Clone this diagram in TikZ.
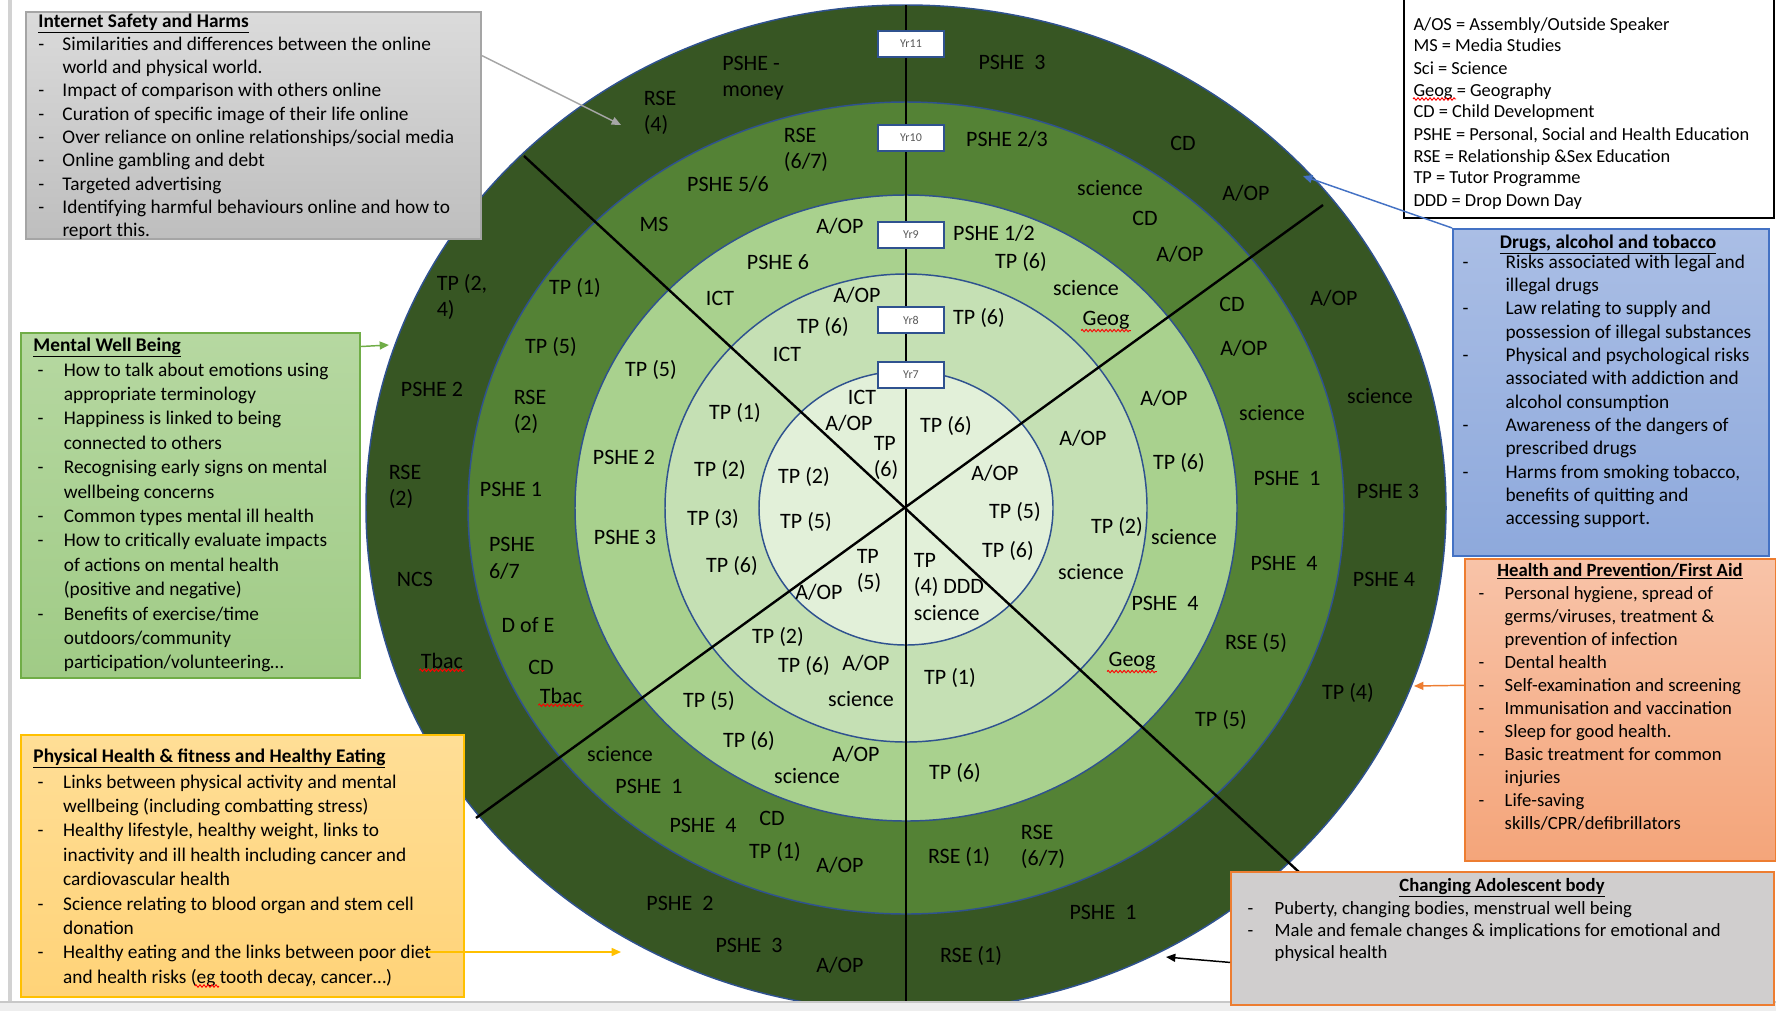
\documentclass[tikz,border=0pt]{standalone}
\usepackage{fontspec}
\setmainfont{Carlito}
\usetikzlibrary{arrows.meta,decorations.pathmorphing}

% shading colours of the topic boxes
\definecolor{inettop}{RGB}{219,219,219}
\definecolor{inetbot}{RGB}{190,190,190}
\definecolor{menttop}{RGB}{182,216,161}
\definecolor{mentbot}{RGB}{160,203,134}
\definecolor{phystop}{RGB}{255,222,150}
\definecolor{physbot}{RGB}{255,211,120}
\definecolor{drugtop}{RGB}{170,190,229}
\definecolor{drugbot}{RGB}{142,169,220}
\definecolor{hlthtop}{RGB}{248,195,168}
\definecolor{hlthbot}{RGB}{244,165,122}

% dash item and continuation line
\newcommand{\di}[1][18pt]{\makebox[#1][l]{-}}
\newcommand{\ci}[1][18pt]{\hspace*{#1}}

\tikzset{every picture/.style={line width=0.75pt}}
\tikzset{
	ring/.style={draw={rgb, 255:red, 47; green, 82; blue, 143 }, line width=1.1},
	spoke/.style={draw=black, line width=1.8},
	lbl/.style={inner sep=0.75pt, align=left, font=\fontsize{16.5}{20}\selectfont},
	yrbox/.style={draw={rgb, 255:red, 47; green, 82; blue, 143 }, line width=1.5, fill=white, minimum width=49.5pt, minimum height=20pt, inner sep=0pt, font=\fontsize{9}{10}\selectfont, text={rgb, 255:red, 89; green, 89; blue, 89 }},
	infobox/.style={anchor=north west, inner sep=0pt, line width=1.6},
	boxhead/.style={inner sep=0pt, font=\fontsize{14.5}{17.5}\selectfont\bfseries},
	boxbody/.style={anchor=base west, inner sep=0pt, font=\fontsize{14.5}{17.5}\selectfont},
	arr/.style={line width=1.1, -{Triangle[length=7pt,width=6pt]}},
	squig/.style={draw=red, line width=0.7, decorate, decoration={zigzag, segment length=3pt, amplitude=0.9pt}}
}

\begin{document}
\begin{tikzpicture}[x=0.75pt,y=0.75pt,yscale=-1,xscale=1]
	\useasboundingbox (0,0) rectangle (1776,1010);
	
	%Shape: page edge
	\fill [color={rgb, 255:red, 210; green, 210; blue, 210 }] (8,0) rectangle (12,1010) ;
	
	%Shape: Ellipse Yr11
	\draw [ring, fill={rgb, 255:red, 55; green, 86; blue, 35 }] (906,508) ellipse [x radius=540, y radius=503] ;
	%Shape: Ellipse Yr10
	\draw [ring, fill={rgb, 255:red, 84; green, 130; blue, 53 }] (906,508) ellipse [x radius=438, y radius=406] ;
	%Shape: Ellipse Yr9
	\draw [ring, fill={rgb, 255:red, 169; green, 209; blue, 142 }] (906,508) ellipse [x radius=331, y radius=313] ;
	%Shape: Ellipse Yr8
	\draw [ring, fill={rgb, 255:red, 197; green, 224; blue, 180 }] (906,508) ellipse [x radius=241, y radius=234] ;
	%Shape: Ellipse Yr7
	\draw [ring, fill={rgb, 255:red, 226; green, 240; blue, 217 }] (906,508) ellipse [x radius=147, y radius=137] ;
	
	%Straight Lines
	\draw [spoke] (906,5) -- (906,1010) ;
	\draw [spoke] (524,156) -- (1300,873) ;
	\draw [spoke] (1323,205) -- (476,818) ;
	
	%Shape: page bottom
	\fill [color={rgb, 255:red, 238; green, 238; blue, 238 }] (0,1002) rectangle (1776,1012) ;
	\draw [color={rgb, 255:red, 200; green, 200; blue, 200 }, line width=1] (0,1002) -- (1776,1002) ;
	
	% Text Node Yr11 ring
	\draw (753,78) node [lbl] (o1) {PSHE -\\money};
	\draw (660,113) node [lbl] (o2) {RSE\\(4)};
	\draw (1012,62) node [lbl] (o3) {PSHE\ \ 3};
	\draw (1183,143) node [lbl] (o4) {CD};
	\draw (1246,193) node [lbl] (o5) {A/OP};
	\draw (1334,298) node [lbl] (o6) {A/OP};
	\draw (1380,396) node [lbl] (o7) {science};
	\draw (1388,491) node [lbl] (o8) {PSHE 3};
	\draw (1384,579) node [lbl] (o9) {PSHE 4};
	\draw (1348,693) node [lbl] (o10) {TP (4)};
	\draw (1103,912) node [lbl] (o11) {PSHE\ \ 1};
	\draw (971,956) node [lbl] (o12) {RSE (1)};
	\draw (840,965) node [lbl] (o13) {A/OP};
	\draw (749,945) node [lbl] (o14) {PSHE\ \ 3};
	\draw (680,903) node [lbl] (o15) {PSHE\ \ 2};
	\draw (442,661) node [lbl] (o16) {Tbac};
	\draw (415,579) node [lbl] (o17) {NCS};
	\draw (405,487) node [lbl] (o18) {RSE\\(2)};
	\draw (432,389) node [lbl] (o19) {PSHE 2};
	\draw (462,297) node [lbl] (o20) {TP (2,\\4)};
	
	% Text Node Yr10 ring
	\draw (806,150) node [lbl] (t1) {RSE\\(6/7)};
	\draw (1007,139) node [lbl] (t2) {PSHE 2/3};
	\draw (728,184) node [lbl] (t3) {PSHE 5/6};
	\draw (1110,188) node [lbl] (t4) {science};
	\draw (654,224) node [lbl] (t5) {MS};
	\draw (1145,218) node [lbl] (t6) {CD};
	\draw (1180,254) node [lbl] (t7) {A/OP};
	\draw (575,288) node [lbl] (t8) {TP (1)};
	\draw (1232,304) node [lbl] (t9) {CD};
	\draw (1244,348) node [lbl] (t10) {A/OP};
	\draw (551,347) node [lbl] (t11) {TP (5)};
	\draw (530,412) node [lbl] (t12) {RSE\\(2)};
	\draw (1272,413) node [lbl] (t13) {science};
	\draw (511,489) node [lbl] (t14) {PSHE 1};
	\draw (1287,478) node [lbl] (t15) {PSHE\ \ 1};
	\draw (512,558) node [lbl] (t16) {PSHE\\6/7};
	\draw (1284,563) node [lbl] (t17) {PSHE\ \ 4};
	\draw (528,625) node [lbl] (t18) {D of E};
	\draw (1256,643) node [lbl] (t19) {RSE (5)};
	\draw (541,667) node [lbl] (t20) {CD};
	\draw (561,696) node [lbl] (t21) {Tbac};
	\draw (1221,720) node [lbl] (t22) {TP (5)};
	\draw (620,754) node [lbl] (t23) {science};
	\draw (649,786) node [lbl] (t24) {PSHE\ \ 1};
	\draw (703,825) node [lbl] (t25) {PSHE\ \ 4};
	\draw (772,818) node [lbl] (t26) {CD};
	\draw (775,852) node [lbl] (t27) {TP (1)};
	\draw (840,865) node [lbl] (t28) {A/OP};
	\draw (959,857) node [lbl] (t29) {RSE (1)};
	\draw (1043,847) node [lbl] (t30) {RSE\\(6/7)};
	
	% Text Node Yr9 ring
	\draw (840,226) node [lbl] (n1) {A/OP};
	\draw (994,233) node [lbl] (n2) {PSHE 1/2};
	\draw (778,262) node [lbl] (n3) {PSHE 6};
	\draw (1021,262) node [lbl] (n4) {TP (6)};
	\draw (720,298) node [lbl] (n5) {ICT};
	\draw (1086,288) node [lbl] (n6) {science};
	\draw (1106,320) node [lbl] (n7) {Geog};
	\draw (651,370) node [lbl] (n8) {TP (5)};
	\draw (624,457) node [lbl] (n9) {PSHE 2};
	\draw (1164,398) node [lbl] (n10) {A/OP};
	\draw (625,537) node [lbl] (n11) {PSHE 3};
	\draw (1179,463) node [lbl] (n12) {TP (6)};
	\draw (1184,537) node [lbl] (n13) {science};
	\draw (1165,603) node [lbl] (n14) {PSHE\ \ 4};
	\draw (1132,661) node [lbl] (n15) {Geog};
	\draw (709,701) node [lbl] (n16) {TP (5)};
	\draw (749,741) node [lbl] (n17) {TP (6)};
	\draw (856,754) node [lbl] (n18) {A/OP};
	\draw (807,776) node [lbl] (n19) {science};
	\draw (955,773) node [lbl] (n20) {TP (6)};
	
	% Text Node Yr8 ring
	\draw (857,295) node [lbl] (e1) {A/OP};
	\draw (823,327) node [lbl] (e2) {TP (6)};
	\draw (979,318) node [lbl] (e3) {TP (6)};
	\draw (787,354) node [lbl] (e4) {ICT};
	\draw (735,413) node [lbl] (e5) {TP (1)};
	\draw (1083,438) node [lbl] (e6) {A/OP};
	\draw (720,470) node [lbl] (e7) {TP (2)};
	\draw (713,519) node [lbl] (e8) {TP (3)};
	\draw (1117,527) node [lbl] (e9) {TP (2)};
	\draw (732,566) node [lbl] (e10) {TP (6)};
	\draw (1091,572) node [lbl] (e11) {science};
	\draw (778,637) node [lbl] (e12) {TP (2)};
	\draw (804,666) node [lbl] (e13) {TP (6)};
	\draw (866,663) node [lbl] (e14) {A/OP};
	\draw (861,699) node [lbl] (e15) {science};
	\draw (950,678) node [lbl] (e16) {TP (1)};
	
	% Text Node Yr7 ring
	\draw (862,397) node [lbl] (s1) {ICT};
	\draw (849,423) node [lbl] (s2) {A/OP};
	\draw (886,458) node [lbl] (s3) {TP\\(6)};
	\draw (946,426) node [lbl] (s4) {TP (6)};
	\draw (804,477) node [lbl] (s5) {TP (2)};
	\draw (806,522) node [lbl] (s6) {TP (5)};
	\draw (995,473) node [lbl] (s7) {A/OP};
	\draw (1015,512) node [lbl] (s8) {TP (5)};
	\draw (1008,551) node [lbl] (s9) {TP (6)};
	\draw (869,571) node [lbl] (s10) {TP\\(5)};
	\draw (819,592) node [lbl] (s11) {A/OP};
	\draw (949,587) node [lbl] (s12) {TP\\(4) DDD\\science};
	
	% spell-check waves
	\draw [squig] (o16.south west) -- (o16.south east) ;
	\draw [squig] (t21.south west) -- (t21.south east) ;
	\draw [squig] (n7.south west) -- (n7.south east) ;
	\draw [squig] (n15.south west) -- (n15.south east) ;
	
	% Year labels
	\draw (911,44) node [yrbox] (yr11) {Yr11};
	\draw (911,138) node [yrbox] (yr10) {Yr10};
	\draw (911,235) node [yrbox] (yr9) {Yr9};
	\draw (911,320) node [yrbox] (yr8) {Yr8};
	\draw (911,375) node [yrbox] (yr7) {Yr7};
	
	%Shape: Rectangle Internet Safety
	\draw (25,11) node [infobox, draw={rgb, 255:red, 165; green, 165; blue, 165 }, top color=inettop, bottom color=inetbot, minimum width=341.25pt, minimum height=170.25pt] (inetbox) {};
	\draw (38,27) node [boxhead, anchor=base west] (inethead) {\underline{Internet Safety and Harms}};
	\draw (38,50) node [boxbody] (inettext) {\parbox[t]{330pt}{\di Similarities and differences between the online\\
		\ci world and physical world.\\
		\di Impact of comparison with others online\\
		\di Curation of specific image of their life online\\
		\di Over reliance on online relationships/social media\\
		\di Online gambling and debt\\
		\di Targeted advertising\\
		\di Identifying harmful behaviours online and how to\\
		\ci report this.}};
	
	%Shape: Rectangle Mental Well Being
	\draw (20,332) node [infobox, draw={rgb, 255:red, 112; green, 173; blue, 71 }, top color=menttop, bottom color=mentbot, minimum width=254.25pt, minimum height=258.75pt] (mentbox) {};
	\draw (33,351) node [boxhead, anchor=base west] (menthead) {\underline{Mental Well Being}};
	\draw (37,376) node [boxbody, font=\fontsize{14.5}{18.3}\selectfont] (menttext) {\parbox[t]{250pt}{\di[16.5pt] How to talk about emotions using\\
		\ci[16.5pt] appropriate terminology\\
		\di[16.5pt] Happiness is linked to being\\
		\ci[16.5pt] connected to others\\
		\di[16.5pt] Recognising early signs on mental\\
		\ci[16.5pt] wellbeing concerns\\
		\di[16.5pt] Common types mental ill health\\
		\di[16.5pt] How to critically evaluate impacts\\
		\ci[16.5pt] of actions on mental health\\
		\ci[16.5pt] (positive and negative)\\
		\di[16.5pt] Benefits of exercise/time\\
		\ci[16.5pt] outdoors/community\\
		\ci[16.5pt] participation/volunteering\ldots}};
	
	%Shape: Rectangle Physical Health
	\draw (20,734) node [infobox, draw={rgb, 255:red, 255; green, 192; blue, 0 }, top color=phystop, bottom color=physbot, minimum width=332.25pt, minimum height=196.5pt] (physbox) {};
	\draw (33,762) node [boxhead, anchor=base west] (physhead) {\underline{Physical Health \& fitness and Healthy Eating}};
	\draw (37,788) node [boxbody, font=\fontsize{14.5}{18.3}\selectfont] (phystext) {\parbox[t]{330pt}{\di[16pt] Links between physical activity and mental\\
		\ci[16pt] wellbeing (including combatting stress)\\
		\di[16pt] Healthy lifestyle, healthy weight, links to\\
		\ci[16pt] inactivity and ill health including cancer and\\
		\ci[16pt] cardiovascular health\\
		\di[16pt] Science relating to blood organ and stem cell\\
		\ci[16pt] donation\\
		\di[16pt] Healthy eating and the links between poor diet\\
		\ci[16pt] and health risks (eg tooth decay, cancer\ldots)}};
	\draw [squig] (195,986) -- (219,986) ;
	
	%Shape: Rectangle Key
	\draw (1403,-5) node [infobox, draw=black, fill=white, line width=1.3, minimum width=277.5pt, minimum height=166.5pt] (keybox) {};
	\draw (1413,30) node [boxbody, font=\fontsize{13.8}{16.5}\selectfont] (keytext) {\parbox[t]{270pt}{A/OS = Assembly/Outside Speaker\\
		MS = Media Studies\\
		Sci = Science\\
		Geog = Geography\\
		CD = Child Development\\
		PSHE = Personal, Social and Health Education\\
		RSE = Relationship \&Sex Education\\
		TP = Tutor Programme\\
		DDD = Drop Down Day}};
	\draw [squig] (1413,99) -- (1456,99) ;
	
	%Shape: Rectangle Drugs
	\draw (1452,228) node [infobox, draw={rgb, 255:red, 68; green, 114; blue, 196 }, top color=drugtop, bottom color=drugbot, minimum width=237pt, minimum height=245.25pt] (drugbox) {};
	\draw (1608,248) node [boxhead, anchor=base] (drughead) {\underline{Drugs, alcohol and tobacco}};
	\draw (1462,268) node [boxbody] (drugtext) {\parbox[t]{230pt}{\di[29pt] Risks associated with legal and\\
		\ci[29pt] illegal drugs\\
		\di[29pt] Law relating to supply and\\
		\ci[29pt] possession of illegal substances\\
		\di[29pt] Physical and psychological risks\\
		\ci[29pt] associated with addiction and\\
		\ci[29pt] alcohol consumption\\
		\di[29pt] Awareness of the dangers of\\
		\ci[29pt] prescribed drugs\\
		\di[29pt] Harms from smoking tobacco,\\
		\ci[29pt] benefits of quitting and\\
		\ci[29pt] accessing support.}};
	
	%Shape: Rectangle Health and Prevention
	\draw (1464,558) node [infobox, draw={rgb, 255:red, 237; green, 125; blue, 49 }, top color=hlthtop, bottom color=hlthbot, minimum width=233.25pt, minimum height=226.5pt] (hlthbox) {};
	\draw (1620,576) node [boxhead, anchor=base, font=\fontsize{14}{17.3}\selectfont\bfseries] (hlthhead) {\underline{Health and Prevention/First Aid}};
	\draw (1478,599) node [boxbody, font=\fontsize{14}{17.3}\selectfont] (hlthtext) {\parbox[t]{230pt}{\di[16.5pt] Personal hygiene, spread of\\
		\ci[16.5pt] germs/viruses, treatment \&\\
		\ci[16.5pt] prevention of infection\\
		\di[16.5pt] Dental health\\
		\di[16.5pt] Self-examination and screening\\
		\di[16.5pt] Immunisation and vaccination\\
		\di[16.5pt] Sleep for good health.\\
		\di[16.5pt] Basic treatment for common\\
		\ci[16.5pt] injuries\\
		\di[16.5pt] Life-saving\\
		\ci[16.5pt] skills/CPR/defibrillators}};
	
	%Shape: Rectangle Changing Adolescent body
	\draw (1230,871) node [infobox, draw={rgb, 255:red, 237; green, 125; blue, 49 }, fill={rgb, 255:red, 208; green, 206; blue, 206 }, minimum width=407.25pt, minimum height=99.75pt] (chngbox) {};
	\draw (1502,891) node [boxhead, anchor=base, font=\fontsize{14}{16.5}\selectfont\bfseries] (chnghead) {\underline{Changing Adolescent body}};
	\draw (1247,914) node [boxbody, font=\fontsize{14}{16.5}\selectfont] (chngtext) {\parbox[t]{400pt}{\di[17.25pt] Puberty, changing bodies, menstrual well being\\
		\di[17.25pt] Male and female changes \& implications for emotional and\\
		\ci[17.25pt] physical health}};
	
	% Connectors
	\coordinate (inettip) at (621,125);
	\coordinate (menttip) at (389,345);
	\coordinate (physfrom) at (425,952);
	\coordinate (phystip) at (621,952);
	\coordinate (drugtip) at (1303,176);
	\coordinate (hlthtip) at (1414,686);
	\coordinate (chngtip) at (1166,957);
	\draw [arr, color={rgb, 255:red, 166; green, 166; blue, 166 }] (inetbox.17) -- (inettip) ;
	\draw [arr, color={rgb, 255:red, 112; green, 173; blue, 71 }] (mentbox.43.3) -- (menttip) ;
	\draw [arr, color={rgb, 255:red, 255; green, 192; blue, 0 }] (physfrom) -- (phystip) ;
	\draw [arr, color={rgb, 255:red, 68; green, 114; blue, 196 }] (drugbox.134.7) -- (drugtip) ;
	\draw [arr, color={rgb, 255:red, 237; green, 125; blue, 49 }] (hlthbox.171.6) -- (hlthtip) ;
	\draw [arr, color=black] (chngbox.185.4) -- (chngtip) ;
	
\end{tikzpicture}
\end{document}
